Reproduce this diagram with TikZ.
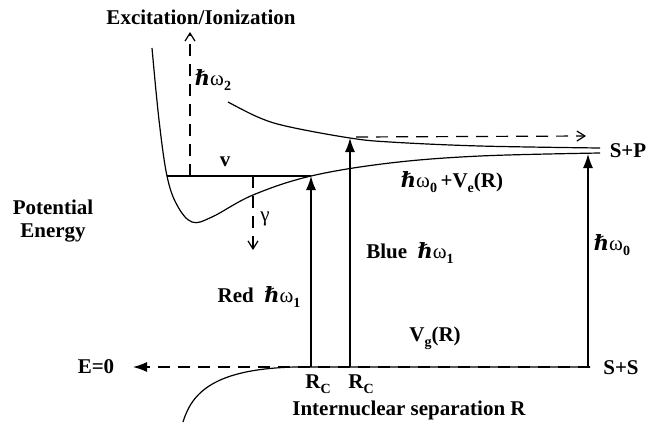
\documentclass[tikz,border=0pt]{standalone}
\usepackage{fontspec}
\setmainfont{Liberation Serif}
\newfontfamily\symfont{DejaVu Serif}
\usetikzlibrary{arrows.meta}

\newcommand{\dn}[1]{\raisebox{-0.55ex}{\fontsize{14}{14}\selectfont #1}}
\newcommand{\hw}{{\symfont\itshape ℏ}{\mdseries ω}}

\begin{document}
\begin{tikzpicture}[x=1pt,y=-1pt,font=\fontsize{21}{23}\selectfont\bfseries,line width=1.2pt,
  >={Latex[length=14pt,width=10pt]}]
\useasboundingbox (0,0) rectangle (658,429);
\tikzset{dsh/.style={dash pattern=on 12pt off 8pt},
  open/.style={-{Straight Barb[length=8pt,width=10pt]}}}
\coordinate (W1) at (152,48);
\coordinate (V1) at (167,176);
\coordinate (V2) at (311,176);
\coordinate (G1) at (253,176);
\coordinate (G2) at (253,250);
\coordinate (H1) at (190,176);
\coordinate (H2) at (190,32);
\coordinate (U1) at (228,102);
\coordinate (B1) at (350,138);
\coordinate (D1) at (356,137);
\coordinate (D2) at (586,136);
\coordinate (P1) at (600,148);
\coordinate (P2) at (600,153);
\coordinate (A1) at (588,154);
\coordinate (Z1) at (183,422);
\coordinate (Z2) at (295,367);
\coordinate (Z3) at (590,367);
\coordinate (E1) at (133,367);
\coordinate (R1) at (311,367);
\coordinate (R2) at (350,367);
\coordinate (S1) at (588,367);

% excited state curve and upper curve
\draw plot[smooth,tension=0.6] coordinates {(W1) (159,120) (V1) (177,205) (192,222) (212,217) (253,195) (V2) (390,163) (480,156) (P2)};
\draw plot[smooth,tension=0.6] coordinates {(U1) (260,118) (290,127) (B1) (390,142) (480,146) (P1)};
\draw (V1) -- (V2);
\draw[dsh,open] (H1) -- (H2);
\draw[dsh,open] (G1) -- (G2);
\draw[dsh,open] (D1) -- (D2);

% ground state
\draw[dsh,->] (Z3) -- (E1);
\draw (Z1) .. controls (192,392) and (215,369) .. (Z2) -- (Z3);

% transitions
\draw[->] (R1) -- (V2);
\draw[->] (R2) -- (B1);
\draw[->] (S1) -- (A1);

\node at (201,17) {Excitation/Ionization};
\node[align=center] at (53,221) {Potential\\Energy};
\node at (96,367) {E=0};
\node at (621,368) {S+S};
\node at (628,151) {S+P};
\node at (225,162) {v};
\node at (265,219) {\mdseries γ};
\node at (213,80) {\hw\dn{2}};
\node at (452,182) {\hw\dn{0}\,+V\dn{e}(R)};
\node at (410,253) {Blue~ \hw\dn{1}};
\node at (259,297) {Red~ \hw\dn{1}};
\node at (435,338) {V\dn{g}(R)};
\node at (612,245) {\hw\dn{0}};
\node at (318,384) {R\dn{C}};
\node at (361,384) {R\dn{C}};
\node at (409,410) {Internuclear separation R};
\end{tikzpicture}
\end{document}
